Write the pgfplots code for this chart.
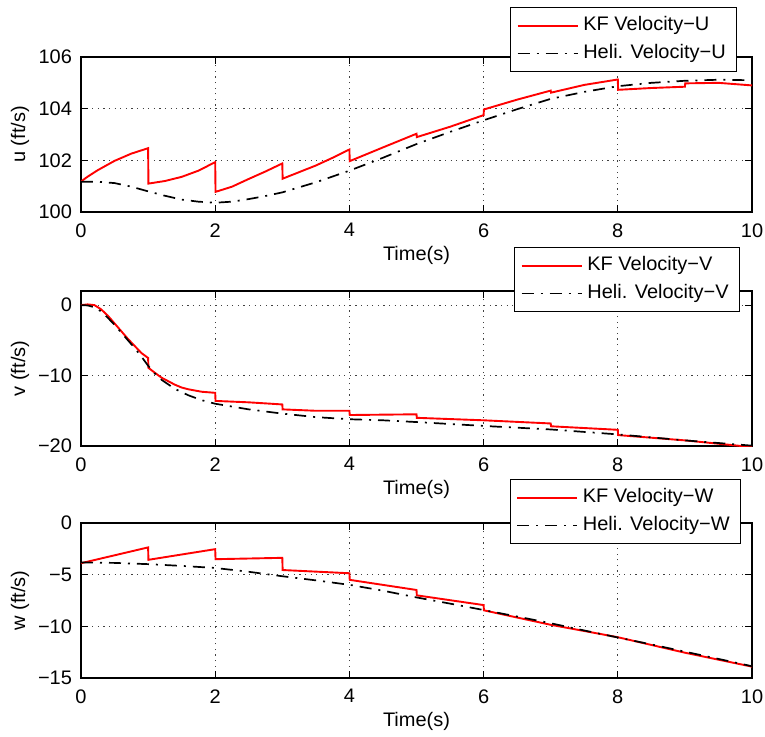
\documentclass[border=0pt]{standalone}
\usepackage{fontspec}
\setmainfont[FakeStretch=1.02]{Liberation Sans}
\usepackage{pgfplots}
\pgfplotsset{compat=1.18}
\pgfplotsset{
  mlab/.style={
    scale only axis, width=335.5pt, height=77.5pt,
    anchor=north west,
    xmin=0, xmax=10, xtick={0,2,4,6,8,10},
    axis line style={line width=0.6pt},
    tick align=inside, major tick length=3.5pt,
    tick style={line width=0.5pt, black},
    grid=major,
    major grid style={dash pattern=on 0.6pt off 2.2pt, black!75, line width=0.45pt},
    /pgf/number format/assume math mode=true,
    font=\fontsize{9.8}{11}\selectfont,
    ticklabel style={font=\fontsize{9.8}{11}\selectfont},
    xticklabel style={yshift=-2.2pt},
    yticklabel style={xshift=-1pt},
    xlabel={Time(s)},
    xlabel style={at={(axis description cs:0.5,-0.28)}, anchor=center},
    ylabel style={at={(axis description cs:-0.091,0.5)}, anchor=center},
    legend cell align=left,
    legend image code/.code={\draw[#1] (0pt,0pt) -- (30pt,0pt);},
    legend style={anchor=north east, draw=black, line width=0.6pt, fill=white,
      inner xsep=3pt, inner ysep=2pt, row sep=0pt,
      nodes={text height=7.3pt, text depth=2pt, inner sep=2.35pt, line width=0.4pt},
      font=\fontsize{9.8}{11}\selectfont},
  },
  kf/.style={red, line width=0.95pt},
  heli/.style={black, line width=0.85pt, dash pattern=on 6pt off 3.5pt on 1pt off 3.5pt},
}
\begin{document}
\begin{tikzpicture}
% ---------- u ----------
\begin{axis}[mlab, at={(0pt,0pt)},
  ymin=100, ymax=106, ytick={100,102,104,106},
  ylabel={u (ft/s)},
  legend style={at={(1,1)}, xshift=-7.5pt, yshift=25pt}]
\addplot[kf] coordinates {
(0,101.18) (0.1,101.37) (0.25,101.62) (0.5,101.98) (0.75,102.26) (1,102.47)
(1.005,101.1) (1.25,101.2) (1.5,101.36) (1.75,101.6) (2,101.93)
(2.005,100.78) (2.25,100.98) (2.5,101.28) (2.75,101.57) (3,101.88)
(3.005,101.29) (3.5,101.8) (3.75,102.1) (4,102.42)
(4.005,101.97) (4.5,102.5) (5,103.03)
(5.005,102.9) (5.5,103.3) (6,103.75)
(6.005,103.97) (6.5,104.35) (7,104.7)
(7.005,104.62) (7.5,104.92) (8,105.13)
(8.005,104.73) (8.5,104.8) (9,104.85)
(9.005,104.98) (9.5,105.0) (10,104.9)
};
\addlegendentry{KF Velocity−U}
\addplot[heli] coordinates {
(0,101.17) (0.25,101.17) (0.5,101.12) (0.75,100.98) (1,100.8) (1.25,100.63)
(1.5,100.48) (1.75,100.4) (2,100.36) (2.25,100.4) (2.5,100.5) (2.75,100.62)
(3,100.76) (3.5,101.15) (4,101.6) (4.5,102.1) (5,102.63) (5.5,103.1)
(6,103.55) (6.5,103.98) (7,104.38) (7.5,104.65) (8,104.87) (8.5,105.0)
(9,105.08) (9.5,105.12) (10,105.1)
};
\addlegendentry{Heli. Velocity−U}
\end{axis}
% ---------- v ----------
\begin{axis}[mlab, at={(0pt,-117pt)},
  ymin=-20, ymax=2, ytick={-20,-10,0}, yticklabels={−20,−10,0},
  ylabel={v (ft/s)},
  legend style={at={(1,1)}, xshift=-6pt, yshift=22pt}]
\addplot[kf] coordinates {
(0,0) (0.1,0.1) (0.2,0.0) (0.3,-0.6) (0.4,-1.5) (0.5,-2.6) (0.6,-3.7)
(0.7,-4.8) (0.8,-5.8) (0.9,-6.8) (1.0,-7.5)
(1.005,-8.9) (1.1,-9.6) (1.2,-10.3) (1.3,-10.8) (1.4,-11.3) (1.5,-11.7)
(1.6,-11.95) (1.8,-12.3) (2,-12.45)
(2.005,-13.6) (2.5,-13.8) (3,-14.1)
(3.005,-14.8) (3.5,-15.0) (4,-15.0)
(4.005,-15.6) (4.5,-15.55) (5,-15.5)
(5.005,-16.0) (6,-16.35) (7,-16.8)
(7.005,-17.2) (8,-17.7)
(8.005,-18.45) (9,-19.2) (10,-20.15)
};
\addlegendentry{KF Velocity−V}
\addplot[heli] coordinates {
(0,0) (0.1,-0.05) (0.2,-0.3) (0.3,-0.9) (0.4,-1.8) (0.5,-2.8) (0.6,-3.9)
(0.7,-5.0) (0.8,-6.1) (0.9,-7.3) (1.0,-8.6) (1.1,-9.7) (1.2,-10.6)
(1.4,-11.9) (1.6,-12.8) (1.8,-13.5) (2,-14.0) (2.5,-14.8) (3,-15.4)
(3.5,-15.9) (4,-16.2) (4.5,-16.35) (5,-16.6) (6,-17.15) (7,-17.65)
(8,-18.35) (9,-19.2) (10,-19.95)
};
\addlegendentry{Heli. Velocity−V}
\end{axis}
% ---------- w ----------
\begin{axis}[mlab, at={(0pt,-233pt)},
  ymin=-15, ymax=0, ytick={-15,-10,-5,0}, yticklabels={−15,−10,−5,0},
  ylabel={w (ft/s)},
  legend style={at={(1,1)}, xshift=-5.5pt, yshift=22pt}]
\addplot[kf] coordinates {
(0,-3.89) (1,-2.36)
(1.005,-3.56) (2,-2.53)
(2.005,-3.5) (3,-3.37)
(3.005,-4.55) (4,-4.86)
(4.005,-5.5) (5,-6.48)
(5.005,-7.0) (6,-7.94)
(6.005,-8.45) (7,-9.85) (8,-11.05) (9,-12.55) (10,-13.9)
};
\addlegendentry{KF Velocity−W}
\addplot[heli] coordinates {
(0,-3.82) (0.5,-3.86) (1,-3.98) (1.5,-4.15) (2,-4.35) (2.5,-4.72) (3,-5.15)
(3.5,-5.55) (4,-5.98) (4.5,-6.55) (5,-7.2) (5.5,-7.8) (6,-8.42) (6.5,-9.05)
(7,-9.7) (7.5,-10.4) (8,-11.08) (8.5,-11.75) (9,-12.45) (9.5,-13.15) (10,-13.86)
};
\addlegendentry{Heli. Velocity−W}
\end{axis}
\pgfresetboundingbox
\useasboundingbox (-40.5pt,28.5pt) rectangle (342pt,-339.5pt);
\end{tikzpicture}
\end{document}
